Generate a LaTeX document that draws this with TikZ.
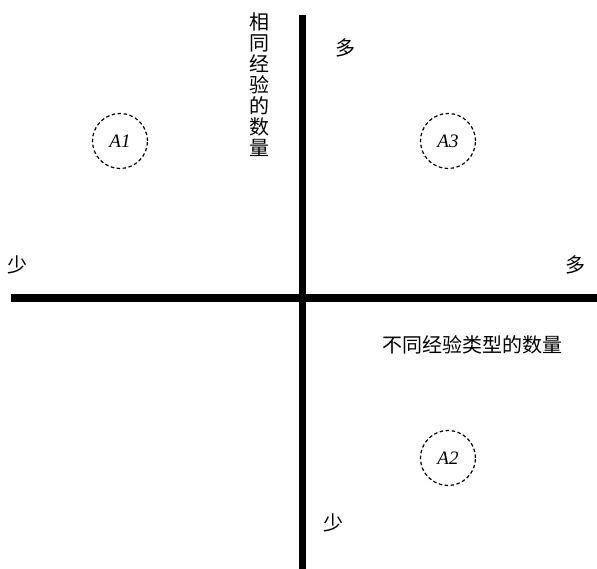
\documentclass[tikz,border=0pt]{standalone}
\usepackage{fontspec}
\setmainfont{Liberation Serif}
\newfontfamily\cjk{Noto Sans CJK SC}
\begin{document}
\begin{tikzpicture}[x=1pt,y=-1pt,
  axisline/.style={line width=7.5pt},
  zone/.style={circle,draw,dash pattern=on 3.5pt off 2.5pt,line width=1.2pt,minimum size=55pt,inner sep=0pt,font=\itshape\fontsize{19}{19}\selectfont},
  cjklabel/.style={font=\cjk\fontsize{20}{20}\selectfont,inner sep=0pt}]
\useasboundingbox (0,0) rectangle (597,569);
\coordinate (vtop) at (302.5,15);
\coordinate (vbot) at (302.5,569);
\coordinate (hleft) at (11,298);
\coordinate (hright) at (597,298);
\draw[axisline] (vtop) -- (vbot);
\draw[axisline] (hleft) -- (hright);
\node[cjklabel,align=center,font=\cjk\fontsize{20}{21}\selectfont] (ylab) at (259,85) {相\\同\\经\\验\\的\\数\\量};
\node[cjklabel] (xlab) at (472,345) {不同经验类型的数量};
\node[cjklabel] (ymore) at (345,48) {多};
\node[cjklabel] (yless) at (333,523) {少};
\node[cjklabel] (xless) at (18,265) {少};
\node[cjklabel] (xmore) at (575,265) {多};
\node[zone] (a1) at (120,141) {A1};
\node[zone] (a3) at (448,141) {A3};
\node[zone] (a2) at (448,458) {A2};
\end{tikzpicture}
\end{document}
